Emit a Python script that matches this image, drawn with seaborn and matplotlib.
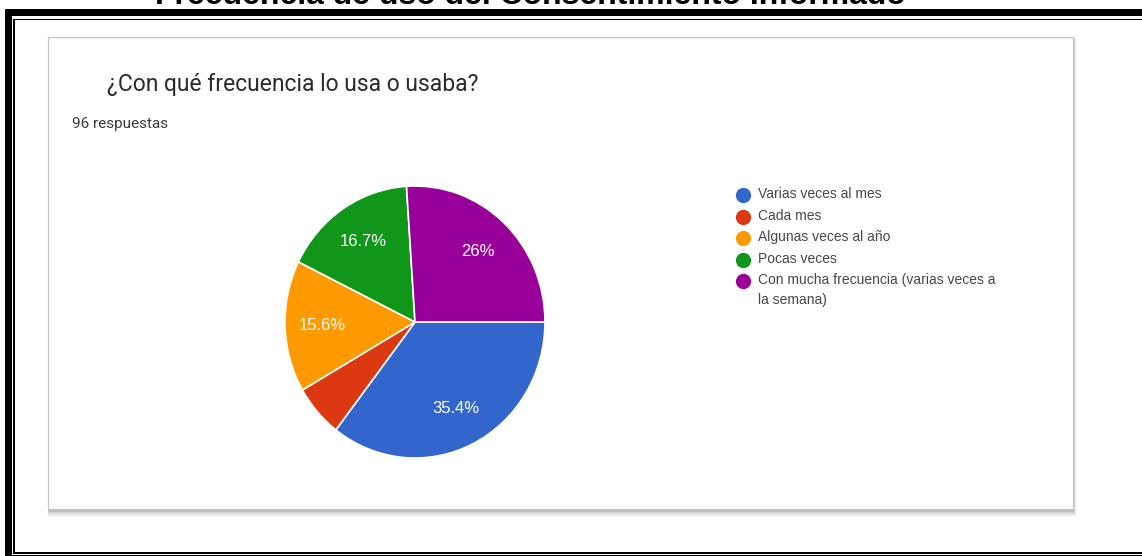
import matplotlib
matplotlib.use("Agg")
import matplotlib.pyplot as plt
from matplotlib.patches import Rectangle
import seaborn as sns

# Survey answers: "¿Con qué frecuencia lo usa o usaba?" (96 respuestas)
categories = [
    "Varias veces al mes",
    "Cada mes",
    "Algunas veces al año",
    "Pocas veces",
    "Con mucha frecuencia (varias veces a\nla semana)",
]
counts = [34, 6, 15, 16, 25]
slice_colors = ["#3366cc", "#dc3912", "#ff9900", "#109618", "#990099"]

page_title = "Frecuencia de uso del Consentimiento Informado"
question = "¿Con qué frecuencia lo usa o usaba?"
responses = f"{sum(counts)} respuestas"

sns.set_theme(style="white")
plt.rcParams["font.family"] = ["Liberation Sans", "DejaVu Sans"]

W, H = 1142, 556
fig = plt.figure(figsize=(W / 100, H / 100), dpi=100)
fig.patch.set_facecolor("white")

# Background layer in pixel coordinates (origin top-left)
bg = fig.add_axes([0, 0, 1, 1], zorder=0)
bg.set_xlim(0, W)
bg.set_ylim(H, 0)
bg.axis("off")

# Double black frame (outer thick, inner thin)
bg.add_patch(Rectangle((4.7, 9), W, 7, color="black", lw=0))
bg.add_patch(Rectangle((4.7, 9), 7.3, H, color="black", lw=0))
bg.add_patch(Rectangle((13.3, 18.7), W, 1.6, color="black", lw=0))
bg.add_patch(Rectangle((13.3, 18.7), 1.4, 534.5, color="black", lw=0))
bg.add_patch(Rectangle((13.3, 552.3), W, 1.6, color="black", lw=0))
bg.add_patch(Rectangle((4.7, 555.4), W, 5, color="black", lw=0))

# Page heading, clipped by the top of the image
fig.text(530 / W, 1 - 4.5 / H, page_title, ha="center", va="baseline",
         fontsize=23, fontweight="bold", color="black",
         family=["Liberation Sans", "DejaVu Sans"])

# Card with soft drop shadow
card_x0, card_y0, card_x1, card_y1 = 48, 37, 1073, 509
for k, a in [(6, 0.04), (5, 0.06), (4, 0.08), (3, 0.11), (2, 0.15), (1, 0.2)]:
    bg.add_patch(Rectangle((card_x0 - 0.5, card_y0 + k * 0.4),
                           (card_x1 - card_x0) + k * 0.7,
                           (card_y1 - card_y0) + k,
                           color="#555555", alpha=a, lw=0))
bg.add_patch(Rectangle((card_x0, card_y0), card_x1 - card_x0, card_y1 - card_y0,
                       facecolor="white", edgecolor="#c4c4c4", lw=0.9))

# Card texts
bg.text(107, 90.5, question, ha="left", va="baseline", fontsize=16.5,
        color="#2a2b2e", family=["Roboto", "DejaVu Sans"])
bg.text(72, 128, responses, ha="left", va="baseline", fontsize=11,
        color="#3c3c3c", family=["Roboto", "DejaVu Sans"])

# Pie chart
cx, cy, rx, ry = 415, 322, 130, 136
pad = 1.1
pie_ax = fig.add_axes([(cx - pad * rx) / W, 1 - (cy + pad * ry) / H,
                       2 * pad * rx / W, 2 * pad * ry / H], zorder=2)


def pct_label(p):
    if p < 10:
        return ""
    s = f"{p:.1f}"
    if s.endswith(".0"):
        s = s[:-2]
    return s + "%"


wedges, _, autotexts = pie_ax.pie(
    counts, colors=slice_colors, startangle=0, counterclock=False,
    autopct=pct_label, pctdistance=0.71,
    wedgeprops=dict(edgecolor="white", linewidth=1.2),
    textprops=dict(color="white", fontsize=12,
                   family=["Liberation Sans", "DejaVu Sans"]),
)
pie_ax.set_xlim(-pad, pad)
pie_ax.set_ylim(-pad, pad)
pie_ax.set_aspect("auto")
pie_ax.axis("off")

# Legend with round swatches, aligned to the first text line
leg_x, leg_y0, row_h = 743, 195, 21.6
row = 0
for label, color in zip(categories, slice_colors):
    y = leg_y0 + row * row_h
    bg.plot([leg_x], [y], marker="o", markersize=11, color=color,
            markeredgewidth=0, linestyle="none", zorder=3)
    bg.text(leg_x + 15, y - 8, label, ha="left", va="top", fontsize=10,
            color="#474747", linespacing=1.55,
            family=["Liberation Sans", "DejaVu Sans"])
    row += label.count("\n") + 1

fig.savefig("out.png", dpi=100, facecolor="white")
